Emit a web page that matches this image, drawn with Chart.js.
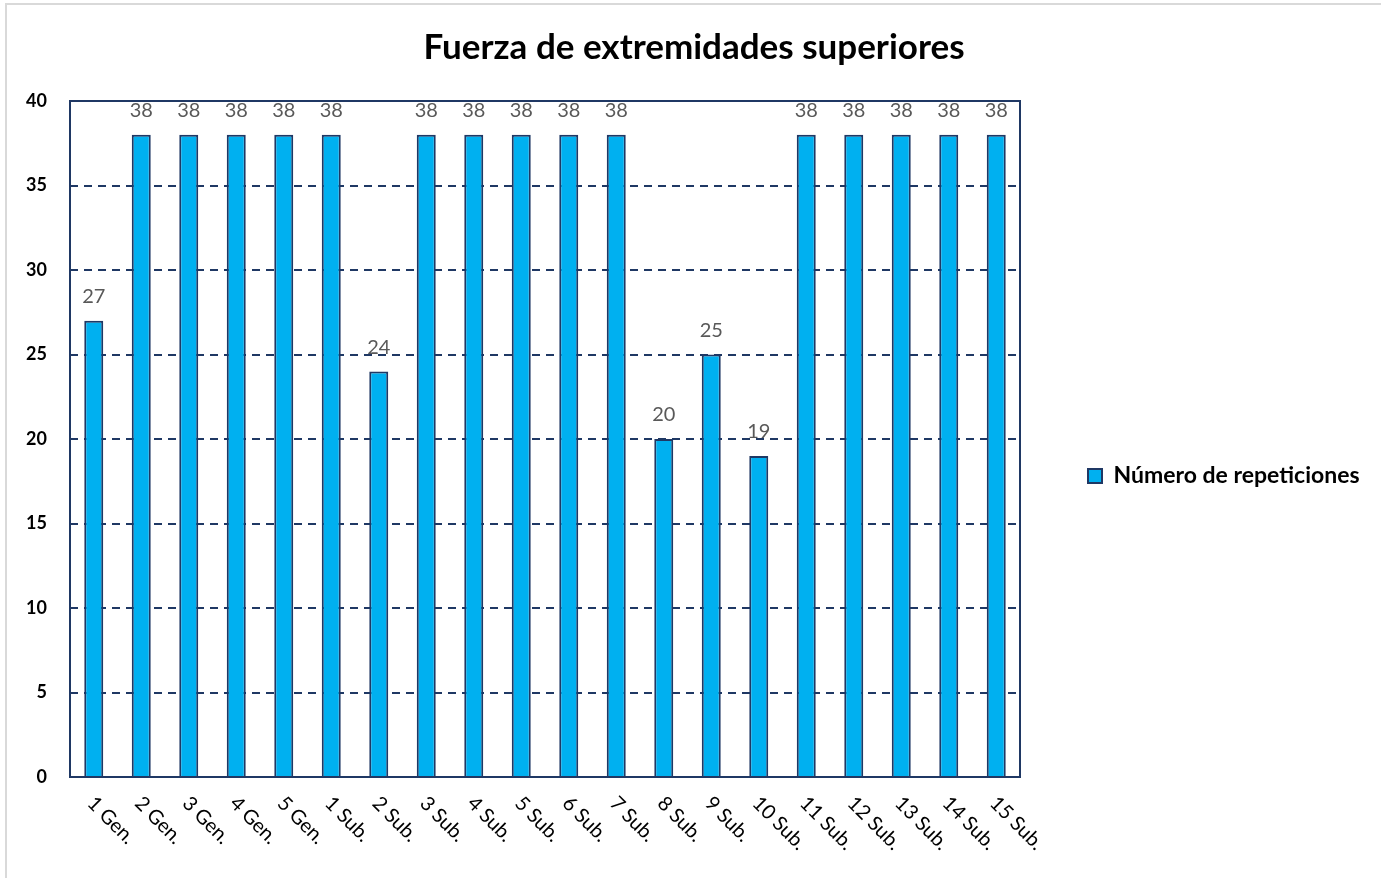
<!DOCTYPE html>
<html>
<head>
<meta charset="utf-8">
<script src="https://cdn.jsdelivr.net/npm/chart.js@4.4.1/dist/chart.umd.min.js"></script>
<style>
	body { margin: 0; background: #fff; }
	#wrap { position: absolute; left: 5px; top: 3px; border: 2px solid #d9d9d9; width: 1374px; height: 873px; }
	canvas { display: block; }
</style>
</head>
<body>
<div id="wrap"><canvas id="chart" width="1374" height="873"></canvas></div>
<script>
const categories = ['1 Gen.', '2 Gen.', '3 Gen.', '4 Gen.', '5 Gen.', '1 Sub.', '2 Sub.', '3 Sub.', '4 Sub.', '5 Sub.',
	'6 Sub.', '7 Sub.', '8 Sub.', '9 Sub.', '10 Sub.', '11 Sub.', '12 Sub.', '13 Sub.', '14 Sub.', '15 Sub.']
const repeticiones = [27, 38, 38, 38, 38, 38, 24, 38, 38, 38, 38, 38, 20, 25, 19, 38, 38, 38, 38, 38]
const yTicks = [0, 5, 10, 15, 20, 25, 30, 35, 40]

const navy = '#1f3864'
const fontName = 'Lato, "Open Sans", sans-serif'

// value labels above the bars
const barValues = {
	id: 'barValues',
	afterDatasetsDraw(chart) {
		const ctx = chart.ctx
		const meta = chart.getDatasetMeta(0)
		ctx.save()
		ctx.font = '20px ' + fontName
		ctx.fillStyle = '#595959'
		ctx.textAlign = 'center'
		ctx.textBaseline = 'middle'
		meta.data.forEach((bar, i) => {
			ctx.fillText(repeticiones[i], bar.x, bar.y - 24)
		})
		ctx.restore()
	}
}

// plot frame and slanted category labels
const frameAndLabels = {
	id: 'frameAndLabels',
	afterDraw(chart) {
		const ctx = chart.ctx
		const area = chart.chartArea
		const xScale = chart.scales.x
		ctx.save()
		ctx.strokeStyle = navy
		ctx.lineWidth = 2
		ctx.strokeRect(area.left, area.top, area.right - area.left, area.bottom - area.top)
		ctx.font = '20px ' + fontName
		ctx.fillStyle = '#000'
		ctx.textAlign = 'left'
		ctx.textBaseline = 'middle'
		categories.forEach((c, i) => {
			const x = xScale.getPixelForTick(i)
			ctx.save()
			ctx.translate(x - 3, area.bottom + 23)
			ctx.rotate(Math.PI / 4)
			ctx.fillText(c, 0, 0)
			ctx.restore()
		})
		ctx.restore()
	}
}

const legendPlace = {
	id: 'legendPlace',
	beforeInit(chart) {
		const fit = chart.legend.fit
		chart.legend.fit = function() {
			fit.bind(chart.legend)()
			this.width = 361
		}
	},
	afterLayout(chart) {
		chart.legend.top += 85
		chart.legend.bottom += 85
	}
}

new Chart(document.getElementById('chart'), {
	type: 'bar',
	data: {
		labels: categories,
		datasets: [{
			label: 'Número de repeticiones',
			data: repeticiones,
			backgroundColor: '#00b0f0',
			borderColor: navy,
			borderWidth: 2,
			barPercentage: 0.4,
			categoryPercentage: 1
		}]
	},
	options: {
		responsive: false,
		animation: false,
		layout: { padding: { left: 0, right: 0, top: 0, bottom: 101 } },
		plugins: {
			title: {
				display: true,
				text: 'Fuerza de extremidades superiores',
				color: '#000',
				font: { family: fontName, size: 35, weight: 'bold' },
				padding: { top: 22, bottom: 32 }
			},
			legend: {
				position: 'right',
				labels: {
					boxWidth: 14,
					boxHeight: 14,
					padding: 68,
					color: '#000',
					font: { family: fontName, size: 23, weight: 'bold' }
				}
			},
			tooltip: { enabled: false }
		},
		scales: {
			x: {
				grid: { display: false, drawTicks: false },
				border: { display: false },
				ticks: { display: false }
			},
			y: {
				min: 0,
				max: 40,
				afterBuildTicks(scale) {
					scale.ticks = yTicks.map(v => ({ value: v }))
				},
				afterFit(scale) {
					scale.width = 63
				},
				grid: { color: navy, lineWidth: 2, drawTicks: false },
				border: { display: false, dash: [8, 6] },
				ticks: {
					padding: 23,
					color: '#000',
					font: { family: fontName, size: 18, weight: 'bold' }
				}
			}
		}
	},
	plugins: [barValues, frameAndLabels, legendPlace]
})
</script>
</body>
</html>
